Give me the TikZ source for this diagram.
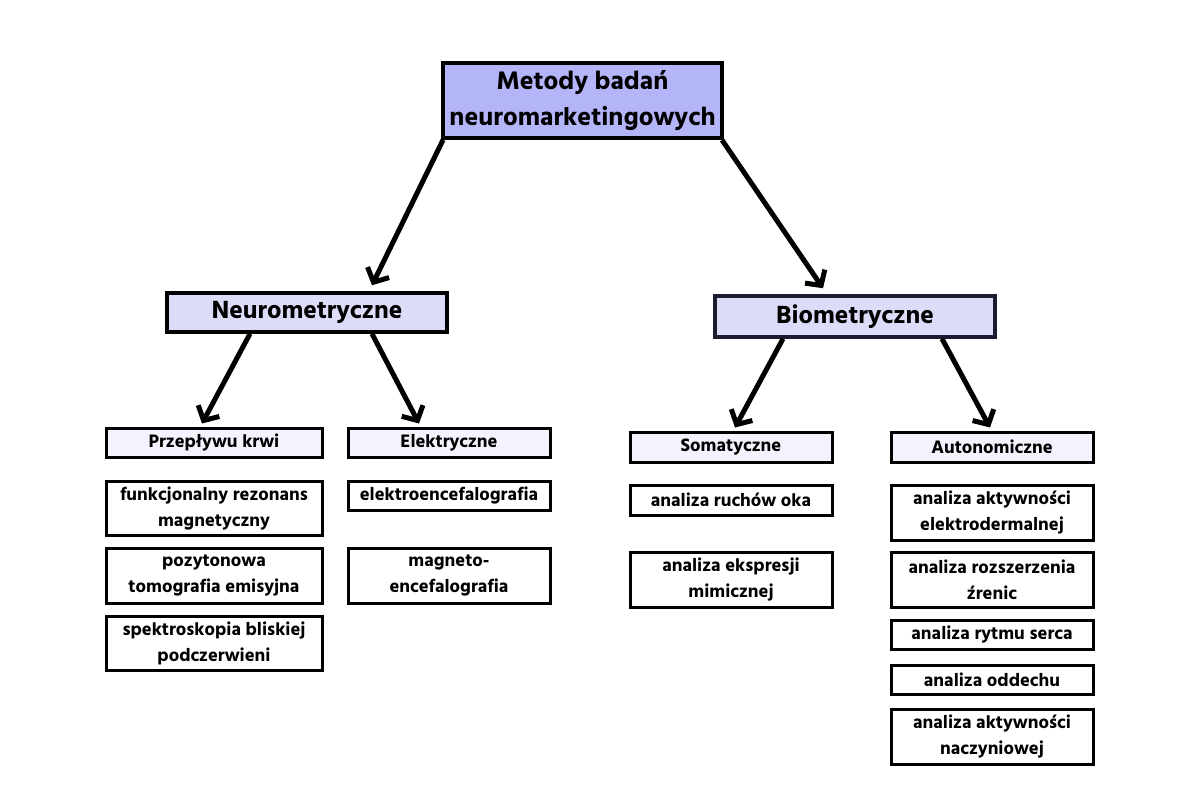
\documentclass[tikz,border=0pt]{standalone}
\usepackage{fontspec}
\setmainfont{Hind Siliguri}[BoldFont={Hind Siliguri Bold}]
\usetikzlibrary{arrows.meta}
\definecolor{topfill}{HTML}{B4B4F8}
\definecolor{midfill}{HTML}{DCDCF9}
\definecolor{lowfill}{HTML}{F3F3FD}
\definecolor{biobord}{HTML}{1C1C30}
\tikzset{
  box/.style={draw=black, line width=3pt, inner sep=0pt, align=center, font=\bfseries\fontsize{18.5}{26}\selectfont},
  topbox/.style={box, fill=topfill, line width=4pt, font=\bfseries\fontsize{26}{36}\selectfont},
  midbox/.style={box, fill=midfill, line width=3.5pt, font=\bfseries\fontsize{25.5}{30}\selectfont},
  catbox/.style={box, fill=lowfill},
  leaf/.style={box, fill=white},
  arr/.style={line width=5pt, -{Straight Barb[length=11pt,width=24pt,line width=5pt]}},
}
\begin{document}
\begin{tikzpicture}[x=1pt,y=-1pt]
\useasboundingbox (0,0) rectangle (1200,800);
\node[topbox, minimum width=279, minimum height=75] (top) at (582.5,100.5) {Metody badań\\neuromarketingowych};
\node[midbox, minimum width=280, minimum height=39] (neuro) at (307,312.5) {Neurometryczne};
\node[midbox, draw=biobord, minimum width=280, minimum height=41] (bio) at (855,316.5) {Biometryczne};
\node[catbox, minimum width=216, minimum height=29] (blood) at (214,442.5) {Przepływu krwi};
\node[catbox, minimum width=202, minimum height=29] (elec) at (449,442.5) {Elektryczne};
\node[catbox, minimum width=202, minimum height=30] (soma) at (731,447) {Somatyczne};
\node[catbox, minimum width=202, minimum height=30] (auto) at (992,447) {Autonomiczne};
\node[leaf, minimum width=216, minimum height=54] (fmri) at (214,508) {funkcjonalny rezonans\\magnetyczny};
\node[leaf, minimum width=216, minimum height=55] (pet) at (214,575.5) {pozytonowa\\tomografia emisyjna};
\node[leaf, minimum width=216, minimum height=54] (nirs) at (214,643) {spektroskopia bliskiej\\podczerwieni};
\node[leaf, minimum width=202, minimum height=29] (eeg) at (449,495.5) {elektroencefalografia};
\node[leaf, minimum width=202, minimum height=55] (meg) at (449,575.5) {magneto-\\encefalografia};
\node[leaf, minimum width=202, minimum height=30] (eye) at (731,500) {analiza ruchów oka};
\node[leaf, minimum width=202, minimum height=55] (face) at (731,579.5) {analiza ekspresji\\mimicznej};
\node[leaf, minimum width=202, minimum height=55] (eda) at (992,512.5) {analiza aktywności\\elektrodermalnej};
\node[leaf, minimum width=202, minimum height=55] (pup) at (992,579.5) {analiza rozszerzenia\\źrenic};
\node[leaf, minimum width=202, minimum height=29] (hr) at (992,634.5) {analiza rytmu serca};
\node[leaf, minimum width=202, minimum height=29] (resp) at (992,679.5) {analiza oddechu};
\node[leaf, minimum width=202, minimum height=55] (vasc) at (992,736.5) {analiza aktywności\\naczyniowej};
\draw[arr] ([xshift=2]top.south west) -- ([xshift=65,yshift=6]neuro.north);
\draw[arr] ([xshift=-2]top.south east) -- ([xshift=-32,yshift=6]bio.north);
\draw[arr] ([xshift=-57]neuro.south) -- ([xshift=-12,yshift=3]blood.north);
\draw[arr] ([xshift=65]neuro.south) -- ([xshift=-30,yshift=3]elec.north);
\draw[arr] ([xshift=-72]bio.south) -- ([xshift=4,yshift=3]soma.north);
\draw[arr] ([xshift=87]bio.south) -- ([xshift=-2,yshift=3]auto.north);
\end{tikzpicture}
\end{document}
